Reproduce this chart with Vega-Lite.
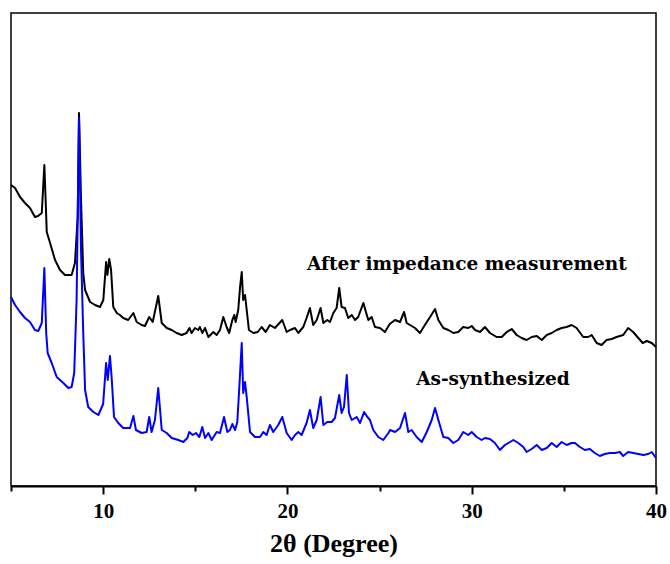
{
  "$schema": "https://vega.github.io/schema/vega-lite/v6.json",
  "width": 645,
  "height": 473,
  "autosize": {"type": "none"},
  "padding": {"left": 11, "top": 13, "right": 14, "bottom": 78},
  "background": "white",
  "config": {"view": {"stroke": "black", "strokeWidth": 1.5}},
  "datasets": {
    "xrd": [
      {"sample": "After", "theta": 5.0, "intensity": 299},
      {"sample": "After", "theta": 5.22, "intensity": 296},
      {"sample": "After", "theta": 5.49, "intensity": 287},
      {"sample": "After", "theta": 5.76, "intensity": 281},
      {"sample": "After", "theta": 6.03, "intensity": 276},
      {"sample": "After", "theta": 6.3, "intensity": 267},
      {"sample": "After", "theta": 6.47, "intensity": 268},
      {"sample": "After", "theta": 6.67, "intensity": 271},
      {"sample": "After", "theta": 6.81, "intensity": 319},
      {"sample": "After", "theta": 6.88, "intensity": 284},
      {"sample": "After", "theta": 6.94, "intensity": 252},
      {"sample": "After", "theta": 7.12, "intensity": 241},
      {"sample": "After", "theta": 7.39, "intensity": 224},
      {"sample": "After", "theta": 7.66, "intensity": 214},
      {"sample": "After", "theta": 7.93, "intensity": 209},
      {"sample": "After", "theta": 8.29, "intensity": 209},
      {"sample": "After", "theta": 8.47, "intensity": 221},
      {"sample": "After", "theta": 8.62, "intensity": 267},
      {"sample": "After", "theta": 8.69, "intensity": 371},
      {"sample": "After", "theta": 8.8, "intensity": 284},
      {"sample": "After", "theta": 8.92, "intensity": 211},
      {"sample": "After", "theta": 9.02, "intensity": 194},
      {"sample": "After", "theta": 9.29, "intensity": 182},
      {"sample": "After", "theta": 9.56, "intensity": 179},
      {"sample": "After", "theta": 9.83, "intensity": 177},
      {"sample": "After", "theta": 10.01, "intensity": 184},
      {"sample": "After", "theta": 10.16, "intensity": 222},
      {"sample": "After", "theta": 10.23, "intensity": 209},
      {"sample": "After", "theta": 10.33, "intensity": 225},
      {"sample": "After", "theta": 10.43, "intensity": 214},
      {"sample": "After", "theta": 10.55, "intensity": 177},
      {"sample": "After", "theta": 10.74, "intensity": 171},
      {"sample": "After", "theta": 10.91, "intensity": 169},
      {"sample": "After", "theta": 11.09, "intensity": 166},
      {"sample": "After", "theta": 11.36, "intensity": 164},
      {"sample": "After", "theta": 11.64, "intensity": 171},
      {"sample": "After", "theta": 11.82, "intensity": 162},
      {"sample": "After", "theta": 12.09, "intensity": 159},
      {"sample": "After", "theta": 12.27, "intensity": 158},
      {"sample": "After", "theta": 12.5, "intensity": 167},
      {"sample": "After", "theta": 12.69, "intensity": 162},
      {"sample": "After", "theta": 12.99, "intensity": 188},
      {"sample": "After", "theta": 13.18, "intensity": 161},
      {"sample": "After", "theta": 13.45, "intensity": 156},
      {"sample": "After", "theta": 13.72, "intensity": 154},
      {"sample": "After", "theta": 13.99, "intensity": 151},
      {"sample": "After", "theta": 14.26, "intensity": 149},
      {"sample": "After", "theta": 14.53, "intensity": 151},
      {"sample": "After", "theta": 14.68, "intensity": 156},
      {"sample": "After", "theta": 14.8, "intensity": 151},
      {"sample": "After", "theta": 14.98, "intensity": 156},
      {"sample": "After", "theta": 15.16, "intensity": 154},
      {"sample": "After", "theta": 15.25, "intensity": 157},
      {"sample": "After", "theta": 15.38, "intensity": 151},
      {"sample": "After", "theta": 15.53, "intensity": 156},
      {"sample": "After", "theta": 15.71, "intensity": 147},
      {"sample": "After", "theta": 15.98, "intensity": 152},
      {"sample": "After", "theta": 16.16, "intensity": 149},
      {"sample": "After", "theta": 16.34, "intensity": 154},
      {"sample": "After", "theta": 16.52, "intensity": 167},
      {"sample": "After", "theta": 16.7, "intensity": 157},
      {"sample": "After", "theta": 16.84, "intensity": 151},
      {"sample": "After", "theta": 17.01, "intensity": 164},
      {"sample": "After", "theta": 17.12, "intensity": 169},
      {"sample": "After", "theta": 17.19, "intensity": 162},
      {"sample": "After", "theta": 17.33, "intensity": 174},
      {"sample": "After", "theta": 17.43, "intensity": 197},
      {"sample": "After", "theta": 17.52, "intensity": 212},
      {"sample": "After", "theta": 17.6, "intensity": 184},
      {"sample": "After", "theta": 17.7, "intensity": 189},
      {"sample": "After", "theta": 17.79, "intensity": 174},
      {"sample": "After", "theta": 17.91, "intensity": 154},
      {"sample": "After", "theta": 18.15, "intensity": 151},
      {"sample": "After", "theta": 18.39, "intensity": 152},
      {"sample": "After", "theta": 18.6, "intensity": 157},
      {"sample": "After", "theta": 18.82, "intensity": 152},
      {"sample": "After", "theta": 19.05, "intensity": 159},
      {"sample": "After", "theta": 19.32, "intensity": 156},
      {"sample": "After", "theta": 19.72, "intensity": 164},
      {"sample": "After", "theta": 19.96, "intensity": 152},
      {"sample": "After", "theta": 20.14, "intensity": 154},
      {"sample": "After", "theta": 20.41, "intensity": 156},
      {"sample": "After", "theta": 20.59, "intensity": 151},
      {"sample": "After", "theta": 20.86, "intensity": 157},
      {"sample": "After", "theta": 21.04, "intensity": 166},
      {"sample": "After", "theta": 21.22, "intensity": 176},
      {"sample": "After", "theta": 21.4, "intensity": 159},
      {"sample": "After", "theta": 21.59, "intensity": 164},
      {"sample": "After", "theta": 21.8, "intensity": 176},
      {"sample": "After", "theta": 21.95, "intensity": 161},
      {"sample": "After", "theta": 22.16, "intensity": 164},
      {"sample": "After", "theta": 22.31, "intensity": 162},
      {"sample": "After", "theta": 22.49, "intensity": 171},
      {"sample": "After", "theta": 22.67, "intensity": 176},
      {"sample": "After", "theta": 22.81, "intensity": 196},
      {"sample": "After", "theta": 22.94, "intensity": 177},
      {"sample": "After", "theta": 23.12, "intensity": 176},
      {"sample": "After", "theta": 23.3, "intensity": 166},
      {"sample": "After", "theta": 23.49, "intensity": 169},
      {"sample": "After", "theta": 23.67, "intensity": 164},
      {"sample": "After", "theta": 23.84, "intensity": 167},
      {"sample": "After", "theta": 24.12, "intensity": 181},
      {"sample": "After", "theta": 24.26, "intensity": 172},
      {"sample": "After", "theta": 24.39, "intensity": 164},
      {"sample": "After", "theta": 24.57, "intensity": 167},
      {"sample": "After", "theta": 24.75, "intensity": 157},
      {"sample": "After", "theta": 25.02, "intensity": 156},
      {"sample": "After", "theta": 25.29, "intensity": 152},
      {"sample": "After", "theta": 25.55, "intensity": 160},
      {"sample": "After", "theta": 25.84, "intensity": 164},
      {"sample": "After", "theta": 26.11, "intensity": 162},
      {"sample": "After", "theta": 26.33, "intensity": 172},
      {"sample": "After", "theta": 26.47, "intensity": 161},
      {"sample": "After", "theta": 26.65, "intensity": 159},
      {"sample": "After", "theta": 26.92, "intensity": 156},
      {"sample": "After", "theta": 27.19, "intensity": 151},
      {"sample": "After", "theta": 27.46, "intensity": 159},
      {"sample": "After", "theta": 27.74, "intensity": 167},
      {"sample": "After", "theta": 28.01, "intensity": 175},
      {"sample": "After", "theta": 28.19, "intensity": 164},
      {"sample": "After", "theta": 28.46, "intensity": 156},
      {"sample": "After", "theta": 28.73, "intensity": 154},
      {"sample": "After", "theta": 29.0, "intensity": 151},
      {"sample": "After", "theta": 29.27, "intensity": 152},
      {"sample": "After", "theta": 29.54, "intensity": 157},
      {"sample": "After", "theta": 29.81, "intensity": 156},
      {"sample": "After", "theta": 30.0, "intensity": 158},
      {"sample": "After", "theta": 30.18, "intensity": 154},
      {"sample": "After", "theta": 30.45, "intensity": 152},
      {"sample": "After", "theta": 30.72, "intensity": 157},
      {"sample": "After", "theta": 30.99, "intensity": 151},
      {"sample": "After", "theta": 31.35, "intensity": 147},
      {"sample": "After", "theta": 31.63, "intensity": 147},
      {"sample": "After", "theta": 31.9, "intensity": 152},
      {"sample": "After", "theta": 32.17, "intensity": 155},
      {"sample": "After", "theta": 32.44, "intensity": 149},
      {"sample": "After", "theta": 32.71, "intensity": 146},
      {"sample": "After", "theta": 32.98, "intensity": 144},
      {"sample": "After", "theta": 33.25, "intensity": 147},
      {"sample": "After", "theta": 33.53, "intensity": 148},
      {"sample": "After", "theta": 33.8, "intensity": 144},
      {"sample": "After", "theta": 34.07, "intensity": 149},
      {"sample": "After", "theta": 34.34, "intensity": 151},
      {"sample": "After", "theta": 34.61, "intensity": 154},
      {"sample": "After", "theta": 34.88, "intensity": 156},
      {"sample": "After", "theta": 35.15, "intensity": 157},
      {"sample": "After", "theta": 35.42, "intensity": 159},
      {"sample": "After", "theta": 35.69, "intensity": 156},
      {"sample": "After", "theta": 36.05, "intensity": 147},
      {"sample": "After", "theta": 36.32, "intensity": 147},
      {"sample": "After", "theta": 36.51, "intensity": 149},
      {"sample": "After", "theta": 36.78, "intensity": 141},
      {"sample": "After", "theta": 37.05, "intensity": 139},
      {"sample": "After", "theta": 37.32, "intensity": 144},
      {"sample": "After", "theta": 37.59, "intensity": 145},
      {"sample": "After", "theta": 37.86, "intensity": 147},
      {"sample": "After", "theta": 38.22, "intensity": 149},
      {"sample": "After", "theta": 38.49, "intensity": 156},
      {"sample": "After", "theta": 38.76, "intensity": 152},
      {"sample": "After", "theta": 39.04, "intensity": 146},
      {"sample": "After", "theta": 39.28, "intensity": 141},
      {"sample": "After", "theta": 39.5, "intensity": 143},
      {"sample": "After", "theta": 39.77, "intensity": 141},
      {"sample": "After", "theta": 40.0, "intensity": 137},
      {"sample": "As", "theta": 5.0, "intensity": 187},
      {"sample": "As", "theta": 5.22, "intensity": 179},
      {"sample": "As", "theta": 5.49, "intensity": 172},
      {"sample": "As", "theta": 5.76, "intensity": 166},
      {"sample": "As", "theta": 6.03, "intensity": 162},
      {"sample": "As", "theta": 6.3, "intensity": 154},
      {"sample": "As", "theta": 6.48, "intensity": 153},
      {"sample": "As", "theta": 6.67, "intensity": 161},
      {"sample": "As", "theta": 6.81, "intensity": 216},
      {"sample": "As", "theta": 6.91, "intensity": 151},
      {"sample": "As", "theta": 6.99, "intensity": 131},
      {"sample": "As", "theta": 7.21, "intensity": 121},
      {"sample": "As", "theta": 7.48, "intensity": 107},
      {"sample": "As", "theta": 7.84, "intensity": 101},
      {"sample": "As", "theta": 8.11, "intensity": 96},
      {"sample": "As", "theta": 8.29, "intensity": 97},
      {"sample": "As", "theta": 8.43, "intensity": 111},
      {"sample": "As", "theta": 8.56, "intensity": 184},
      {"sample": "As", "theta": 8.69, "intensity": 366},
      {"sample": "As", "theta": 8.8, "intensity": 234},
      {"sample": "As", "theta": 8.92, "intensity": 151},
      {"sample": "As", "theta": 9.02, "intensity": 94},
      {"sample": "As", "theta": 9.19, "intensity": 77},
      {"sample": "As", "theta": 9.47, "intensity": 72},
      {"sample": "As", "theta": 9.74, "intensity": 69},
      {"sample": "As", "theta": 10.0, "intensity": 80},
      {"sample": "As", "theta": 10.16, "intensity": 121},
      {"sample": "As", "theta": 10.25, "intensity": 104},
      {"sample": "As", "theta": 10.37, "intensity": 128},
      {"sample": "As", "theta": 10.46, "intensity": 107},
      {"sample": "As", "theta": 10.59, "intensity": 67},
      {"sample": "As", "theta": 10.82, "intensity": 61},
      {"sample": "As", "theta": 11.09, "intensity": 56},
      {"sample": "As", "theta": 11.46, "intensity": 56},
      {"sample": "As", "theta": 11.64, "intensity": 68},
      {"sample": "As", "theta": 11.78, "intensity": 54},
      {"sample": "As", "theta": 12.09, "intensity": 51},
      {"sample": "As", "theta": 12.36, "intensity": 52},
      {"sample": "As", "theta": 12.5, "intensity": 67},
      {"sample": "As", "theta": 12.63, "intensity": 52},
      {"sample": "As", "theta": 12.81, "intensity": 64},
      {"sample": "As", "theta": 12.99, "intensity": 96},
      {"sample": "As", "theta": 13.18, "intensity": 54},
      {"sample": "As", "theta": 13.45, "intensity": 51},
      {"sample": "As", "theta": 13.72, "intensity": 46},
      {"sample": "As", "theta": 14.08, "intensity": 44},
      {"sample": "As", "theta": 14.35, "intensity": 42},
      {"sample": "As", "theta": 14.57, "intensity": 46},
      {"sample": "As", "theta": 14.67, "intensity": 52},
      {"sample": "As", "theta": 14.86, "intensity": 49},
      {"sample": "As", "theta": 15.04, "intensity": 51},
      {"sample": "As", "theta": 15.22, "intensity": 47},
      {"sample": "As", "theta": 15.38, "intensity": 57},
      {"sample": "As", "theta": 15.53, "intensity": 46},
      {"sample": "As", "theta": 15.71, "intensity": 51},
      {"sample": "As", "theta": 15.89, "intensity": 44},
      {"sample": "As", "theta": 16.16, "intensity": 52},
      {"sample": "As", "theta": 16.34, "intensity": 51},
      {"sample": "As", "theta": 16.56, "intensity": 67},
      {"sample": "As", "theta": 16.74, "intensity": 52},
      {"sample": "As", "theta": 16.88, "intensity": 54},
      {"sample": "As", "theta": 17.01, "intensity": 60},
      {"sample": "As", "theta": 17.16, "intensity": 54},
      {"sample": "As", "theta": 17.28, "intensity": 62},
      {"sample": "As", "theta": 17.39, "intensity": 97},
      {"sample": "As", "theta": 17.52, "intensity": 141},
      {"sample": "As", "theta": 17.6, "intensity": 91},
      {"sample": "As", "theta": 17.7, "intensity": 102},
      {"sample": "As", "theta": 17.79, "intensity": 87},
      {"sample": "As", "theta": 17.97, "intensity": 52},
      {"sample": "As", "theta": 18.24, "intensity": 47},
      {"sample": "As", "theta": 18.51, "intensity": 47},
      {"sample": "As", "theta": 18.69, "intensity": 52},
      {"sample": "As", "theta": 18.87, "intensity": 49},
      {"sample": "As", "theta": 19.05, "intensity": 59},
      {"sample": "As", "theta": 19.23, "intensity": 52},
      {"sample": "As", "theta": 19.5, "intensity": 59},
      {"sample": "As", "theta": 19.72, "intensity": 67},
      {"sample": "As", "theta": 19.96, "intensity": 51},
      {"sample": "As", "theta": 20.23, "intensity": 44},
      {"sample": "As", "theta": 20.41, "intensity": 49},
      {"sample": "As", "theta": 20.59, "intensity": 52},
      {"sample": "As", "theta": 20.77, "intensity": 49},
      {"sample": "As", "theta": 21.04, "intensity": 61},
      {"sample": "As", "theta": 21.22, "intensity": 74},
      {"sample": "As", "theta": 21.4, "intensity": 56},
      {"sample": "As", "theta": 21.59, "intensity": 64},
      {"sample": "As", "theta": 21.8, "intensity": 87},
      {"sample": "As", "theta": 21.95, "intensity": 59},
      {"sample": "As", "theta": 22.16, "intensity": 62},
      {"sample": "As", "theta": 22.4, "intensity": 62},
      {"sample": "As", "theta": 22.58, "intensity": 66},
      {"sample": "As", "theta": 22.81, "intensity": 89},
      {"sample": "As", "theta": 22.94, "intensity": 71},
      {"sample": "As", "theta": 23.07, "intensity": 77},
      {"sample": "As", "theta": 23.22, "intensity": 109},
      {"sample": "As", "theta": 23.34, "intensity": 71},
      {"sample": "As", "theta": 23.49, "intensity": 64},
      {"sample": "As", "theta": 23.76, "intensity": 67},
      {"sample": "As", "theta": 23.94, "intensity": 61},
      {"sample": "As", "theta": 24.16, "intensity": 72},
      {"sample": "As", "theta": 24.34, "intensity": 67},
      {"sample": "As", "theta": 24.48, "intensity": 64},
      {"sample": "As", "theta": 24.66, "intensity": 54},
      {"sample": "As", "theta": 24.93, "intensity": 47},
      {"sample": "As", "theta": 25.2, "intensity": 44},
      {"sample": "As", "theta": 25.48, "intensity": 51},
      {"sample": "As", "theta": 25.57, "intensity": 54},
      {"sample": "As", "theta": 25.84, "intensity": 52},
      {"sample": "As", "theta": 26.11, "intensity": 56},
      {"sample": "As", "theta": 26.38, "intensity": 71},
      {"sample": "As", "theta": 26.56, "intensity": 52},
      {"sample": "As", "theta": 26.74, "intensity": 54},
      {"sample": "As", "theta": 27.01, "intensity": 47},
      {"sample": "As", "theta": 27.29, "intensity": 42},
      {"sample": "As", "theta": 27.56, "intensity": 52},
      {"sample": "As", "theta": 27.83, "intensity": 64},
      {"sample": "As", "theta": 28.01, "intensity": 76},
      {"sample": "As", "theta": 28.19, "intensity": 64},
      {"sample": "As", "theta": 28.46, "intensity": 47},
      {"sample": "As", "theta": 28.73, "intensity": 46},
      {"sample": "As", "theta": 29.0, "intensity": 41},
      {"sample": "As", "theta": 29.27, "intensity": 44},
      {"sample": "As", "theta": 29.54, "intensity": 52},
      {"sample": "As", "theta": 29.81, "intensity": 49},
      {"sample": "As", "theta": 30.0, "intensity": 52},
      {"sample": "As", "theta": 30.27, "intensity": 47},
      {"sample": "As", "theta": 30.54, "intensity": 44},
      {"sample": "As", "theta": 30.72, "intensity": 46},
      {"sample": "As", "theta": 30.99, "intensity": 45},
      {"sample": "As", "theta": 31.26, "intensity": 41},
      {"sample": "As", "theta": 31.53, "intensity": 34},
      {"sample": "As", "theta": 31.8, "intensity": 39},
      {"sample": "As", "theta": 32.08, "intensity": 42},
      {"sample": "As", "theta": 32.26, "intensity": 44},
      {"sample": "As", "theta": 32.53, "intensity": 41},
      {"sample": "As", "theta": 32.8, "intensity": 37},
      {"sample": "As", "theta": 32.98, "intensity": 32},
      {"sample": "As", "theta": 33.25, "intensity": 35},
      {"sample": "As", "theta": 33.53, "intensity": 39},
      {"sample": "As", "theta": 33.8, "intensity": 34},
      {"sample": "As", "theta": 34.07, "intensity": 36},
      {"sample": "As", "theta": 34.34, "intensity": 41},
      {"sample": "As", "theta": 34.61, "intensity": 37},
      {"sample": "As", "theta": 34.88, "intensity": 42},
      {"sample": "As", "theta": 35.15, "intensity": 39},
      {"sample": "As", "theta": 35.42, "intensity": 41},
      {"sample": "As", "theta": 35.6, "intensity": 41},
      {"sample": "As", "theta": 35.87, "intensity": 37},
      {"sample": "As", "theta": 36.14, "intensity": 34},
      {"sample": "As", "theta": 36.41, "intensity": 35},
      {"sample": "As", "theta": 36.68, "intensity": 31},
      {"sample": "As", "theta": 36.95, "intensity": 28},
      {"sample": "As", "theta": 37.22, "intensity": 30},
      {"sample": "As", "theta": 37.5, "intensity": 31},
      {"sample": "As", "theta": 37.77, "intensity": 31},
      {"sample": "As", "theta": 38.04, "intensity": 32},
      {"sample": "As", "theta": 38.22, "intensity": 28},
      {"sample": "As", "theta": 38.49, "intensity": 32},
      {"sample": "As", "theta": 38.76, "intensity": 31},
      {"sample": "As", "theta": 39.04, "intensity": 30},
      {"sample": "As", "theta": 39.31, "intensity": 29},
      {"sample": "As", "theta": 39.58, "intensity": 30},
      {"sample": "As", "theta": 39.77, "intensity": 32},
      {"sample": "As", "theta": 40.0, "intensity": 26}
    ],
    "labels": [
      {"label": "After impedance measurement", "theta": 29.74, "intensity": 220},
      {"label": "As-synthesized", "theta": 31.15, "intensity": 105}
    ]
  },
  "layer": [
    {
      "data": {"name": "xrd"},
      "mark": {"type": "line", "strokeWidth": 2, "strokeJoin": "round"},
      "encoding": {
        "x": {
          "field": "theta",
          "type": "quantitative",
          "scale": {"domain": [5, 40], "nice": false, "zero": false},
          "axis": {
            "values": [5, 10, 15, 20, 25, 30, 35, 40],
            "labelExpr": "datum.value % 10 === 0 ? datum.label : ''",
            "grid": false,
            "domainColor": "black",
            "domainWidth": 2,
            "tickColor": "black",
            "tickWidth": 2,
            "tickSize": {"condition": {"test": "datum.value % 10 === 0", "value": 8}, "value": 5},
            "labelFont": "Liberation Serif",
            "labelFontWeight": "bold",
            "labelFontSize": 21,
            "labelColor": "black",
            "labelPadding": 6,
            "labelFlush": false,
            "labelBound": false,
            "title": "2θ (Degree)",
            "titleFont": "Liberation Serif",
            "titleFontSize": 26,
            "titleFontWeight": "bold",
            "titleColor": "black",
            "titlePadding": 9
          }
        },
        "y": {
          "field": "intensity",
          "type": "quantitative",
          "scale": {"domain": [-2, 471], "nice": false, "zero": false},
          "axis": null
        },
        "color": {
          "field": "sample",
          "type": "nominal",
          "scale": {"domain": ["After", "As"], "range": ["#000000", "#0000ff"]},
          "legend": null
        }
      }
    },
    {
      "data": {"name": "labels"},
      "mark": {"type": "text", "font": "DejaVu Serif", "fontWeight": "bold", "fontSize": 18.5, "color": "black", "align": "center", "baseline": "middle"},
      "encoding": {
        "x": {"field": "theta", "type": "quantitative"},
        "y": {"field": "intensity", "type": "quantitative"},
        "text": {"field": "label"}
      }
    }
  ]
}
